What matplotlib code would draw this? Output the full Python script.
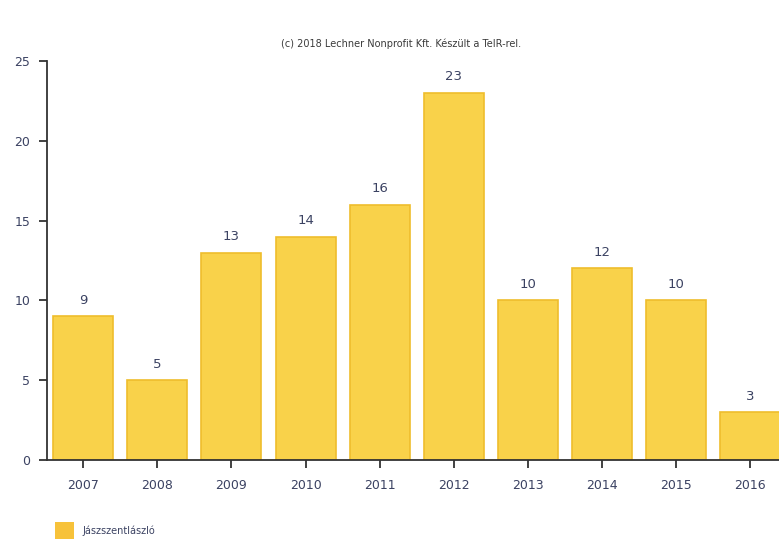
import matplotlib.pyplot as plt
from matplotlib.patches import Patch

years = ["2007", "2008", "2009", "2010", "2011", "2012", "2013", "2014", "2015", "2016"]
values = [9, 5, 13, 14, 16, 23, 10, 12, 10, 3]
yticks = [0, 5, 10, 15, 20, 25]

bar_color = "#F9D24A"
edge_color = "#EFBD2C"
legend_color = "#F7C23A"
text_color = "#3B4262"

fig = plt.figure(figsize=(7.79, 5.41), dpi=100)
ax = fig.add_axes([47 / 779, 1 - 460 / 541, 1 - 47 / 779, (460 - 61) / 541])

x = list(range(len(years)))
ax.bar(x, values, width=0.81, color=bar_color, edgecolor=edge_color, linewidth=1.2, zorder=2)
for xi, v in zip(x, values):
    ax.text(xi, v + 0.6, str(v), ha="center", va="bottom", fontsize=9.5, color=text_color)

ax.set_xlim(-0.49, 9.39)
ax.set_ylim(0, 25)
ax.set_xticks(x)
ax.set_xticklabels(years)
ax.set_yticks(yticks)
ax.tick_params(axis="both", colors="#333333", labelcolor=text_color, labelsize=9, length=6, width=1.3)
ax.tick_params(axis="x", pad=8)
ax.tick_params(axis="y", pad=6)

for s in ["top", "right"]:
    ax.spines[s].set_visible(False)
for s in ["left", "bottom"]:
    ax.spines[s].set_linewidth(1.3)
    ax.spines[s].set_color("#333333")

fig.text(0.515, 1 - 44 / 541, "(c) 2018 Lechner Nonprofit Kft. Készült a TeIR-rel.",
         ha="center", va="center", fontsize=7, color="#3a3a3a")

fig.legend(handles=[Patch(facecolor=legend_color, edgecolor="none")], labels=["Jászszentlászló"],
           loc="lower left", bbox_to_anchor=(46 / 779, -0.012), frameon=False, fontsize=7,
           handlelength=2.0, handleheight=2.2, handletextpad=0.8, labelcolor=text_color)

fig.savefig("out.png", dpi=100)
